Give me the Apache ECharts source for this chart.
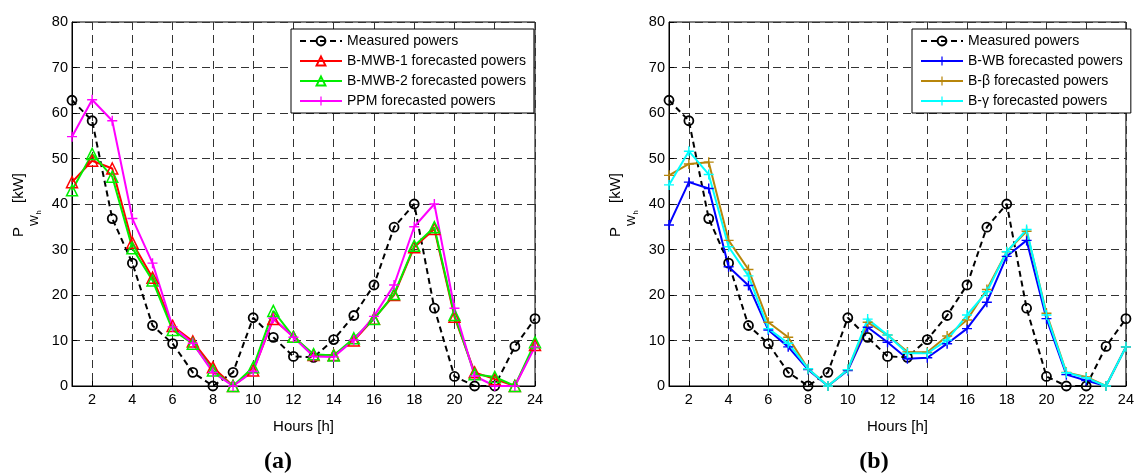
<!DOCTYPE html>
<html>
<head>
<meta charset="utf-8">
<script src="https://cdn.jsdelivr.net/npm/echarts@6/dist/echarts.min.js"></script>
<style>
html, body { margin: 0; padding: 0; background: #fff; }
#main { width: 1137px; height: 475px; }
</style>
</head>
<body>
<div id="main"></div>
<script>
// hours on the x axis
var hours = ['1', '2', '3', '4', '5', '6', '7', '8', '9', '10', '11', '12',
    '13', '14', '15', '16', '17', '18', '19', '20', '21', '22', '23', '24'];
var yTicks = [0, 10, 20, 30, 40, 50, 60, 70, 80];

// measured powers (same in both panels), kW
var measured = [62.8, 58.3, 36.8, 27.0, 13.3, 9.3, 3.0, 0, 3.0, 15.0, 10.7, 6.5,
    6.3, 10.2, 15.5, 22.2, 34.9, 40.0, 17.1, 2.1, 0, 0, 8.7, 14.8];

// panel (a)
var mwb1 = [44.8, 49.5, 47.8, 31.5, 23.8, 13.2, 9.8, 4.1, 0, 3.4, 14.7, 10.8,
    6.8, 6.8, 10.0, 14.8, 20.0, 30.5, 34.5, 15.2, 3.0, 1.5, 0, 9.0];
var mwb2 = [43.0, 51.0, 46.0, 30.3, 23.2, 12.3, 9.3, 3.4, 0, 4.1, 16.5, 10.8,
    7.0, 6.7, 10.5, 14.7, 20.2, 30.8, 34.9, 15.6, 2.6, 2.0, 0, 9.6];
var ppm = [54.8, 62.9, 58.3, 36.8, 27.0, 13.0, 9.4, 3.0, 0, 3.2, 14.9, 10.7,
    6.5, 6.4, 10.1, 15.3, 22.2, 35.0, 40.0, 17.1, 2.2, 0, 0, 8.6];

// panel (b)
var bwb = [35.4, 44.8, 43.4, 26.2, 22.1, 12.3, 8.6, 3.6, 0, 3.4, 12.9, 9.6,
    6.0, 6.2, 9.3, 12.6, 18.4, 28.5, 32.0, 14.8, 2.5, 1.2, 0, 8.6];
var bbeta = [46.3, 48.8, 49.2, 32.0, 25.6, 14.0, 10.7, 3.8, 0, 3.6, 14.0, 11.2,
    7.5, 7.4, 11.0, 14.5, 21.2, 29.5, 34.0, 16.0, 3.0, 2.0, 0, 8.6];
var bgamma = [44.2, 51.6, 46.5, 30.6, 24.2, 12.6, 9.4, 3.8, 0, 3.6, 14.7, 11.2,
    7.2, 7.2, 10.1, 15.6, 20.7, 29.5, 34.4, 15.6, 2.9, 1.8, 0, 8.6];

var FONT = 'Liberation Sans, Arial, sans-serif';
var PLUS = 'path://M0,8.6H20V11.4H0Z M8.6,0H11.4V20H8.6Z';
var GRIDLINE = { show: true, lineStyle: { color: '#333', type: [8, 5], width: 1 } };

function evenHour(index) {
    return index % 2 === 1;
}

function xAxisFor(gi) {
    return {
        type: 'category', gridIndex: gi, data: hours, boundaryGap: false,
        name: 'Hours [h]', nameLocation: 'middle', nameGap: 33,
        nameTextStyle: { fontFamily: FONT, fontSize: 15, color: '#000' },
        axisLine: { lineStyle: { color: '#000', width: 1 } },
        axisTick: { inside: true, length: 5, interval: evenHour, lineStyle: { color: '#000' } },
        axisLabel: { interval: evenHour, margin: 6, fontFamily: FONT, fontSize: 14.5, color: '#000' },
        splitLine: { show: true, interval: evenHour, lineStyle: GRIDLINE.lineStyle }
    };
}

function yAxisFor(gi) {
    return {
        type: 'value', gridIndex: gi, min: yTicks[0], max: yTicks[yTicks.length - 1], interval: 10,
        axisLine: { show: true, lineStyle: { color: '#000', width: 1 } },
        axisTick: { show: true, inside: true, length: 5, lineStyle: { color: '#000' } },
        axisLabel: { margin: 4, fontFamily: FONT, fontSize: 14.5, color: '#000' },
        splitLine: GRIDLINE
    };
}

function measuredSeries(gi) {
    return {
        name: 'Measured powers', type: 'line', xAxisIndex: gi, yAxisIndex: gi,
        data: measured, symbol: 'circle', symbolSize: 9,
        itemStyle: { color: 'rgba(0,0,0,0)', borderColor: '#000', borderWidth: 1.8 },
        lineStyle: { color: '#000', width: 2, type: [6, 4] }
    };
}

function triSeries(name, data, color, gi) {
    return {
        name: name, type: 'line', xAxisIndex: gi, yAxisIndex: gi, data: data,
        symbol: 'triangle', symbolSize: 11,
        itemStyle: { color: 'rgba(0,0,0,0)', borderColor: color, borderWidth: 1.5 },
        lineStyle: { color: color, width: 2 }
    };
}

function plusSeries(name, data, color, gi) {
    return {
        name: name, type: 'line', xAxisIndex: gi, yAxisIndex: gi, data: data,
        symbol: PLUS, symbolSize: 10,
        itemStyle: { color: color },
        lineStyle: { color: color, width: 2 }
    };
}

function legendFor(names, left) {
    return {
        data: names, left: left, top: 29, orient: 'vertical', selectedMode: false,
        itemWidth: 42, itemHeight: 11, itemGap: 6, padding: [5, 8, 5, 8],
        borderColor: '#000', borderWidth: 1, borderRadius: 0, backgroundColor: '#fff',
        textStyle: { fontFamily: FONT, fontSize: 14, color: '#000' }
    };
}

// P_{W_h} [kW], rotated
function yLabel(cx, cy) {
    function t(str, x, y, size) {
        return {
            type: 'text', x: x, y: y,
            style: { text: str, fontFamily: FONT, fontSize: size, fill: '#000', align: 'left', verticalAlign: 'middle' }
        };
    }
    return {
        type: 'group', x: cx, y: cy, rotation: Math.PI / 2,
        children: [
            t('P', -32, -1.8, 15),
            t('W', -21, 14, 11.5),
            t('h', -9.5, 18, 7.5),
            t('[kW]', 2, -1.8, 15)
        ]
    };
}

function panelTag(str, x) {
    return {
        type: 'text', x: x, y: 462,
        style: { text: str, fontFamily: 'Liberation Serif, Times New Roman, serif', fontWeight: 'bold',
            fontSize: 24, fill: '#000', align: 'center', verticalAlign: 'middle' }
    };
}

var myChart = echarts.init(document.getElementById('main'));
var option = {
    animation: false,
    backgroundColor: '#fff',
    grid: [
        { left: 72, top: 22, width: 463, height: 364, show: true, borderColor: '#000', borderWidth: 1 },
        { left: 669, top: 22, width: 463, height: 364, show: true, borderColor: '#000', borderWidth: 1 }
    ],
    xAxis: [xAxisFor(0), xAxisFor(1)],
    yAxis: [yAxisFor(0), yAxisFor(1)],
    legend: [
        legendFor(['Measured powers', 'B-MWB-1 forecasted powers', 'B-MWB-2 forecasted powers', 'PPM forecasted powers'], 291),
        legendFor(['Measured powers', 'B-WB forecasted powers', 'B-\u03b2 forecasted powers', 'B-\u03b3 forecasted powers'], 912)
    ],
    series: [
        measuredSeries(0),
        triSeries('B-MWB-1 forecasted powers', mwb1, '#ff0000', 0),
        triSeries('B-MWB-2 forecasted powers', mwb2, '#00ee00', 0),
        plusSeries('PPM forecasted powers', ppm, '#ff00ff', 0),
        measuredSeries(1),
        plusSeries('B-WB forecasted powers', bwb, '#0000ff', 1),
        plusSeries('B-\u03b2 forecasted powers', bbeta, '#b8860b', 1),
        plusSeries('B-\u03b3 forecasted powers', bgamma, '#00ffff', 1)
    ],
    graphic: [
        yLabel(21, 205),
        yLabel(618, 205),
        panelTag('(a)', 278),
        panelTag('(b)', 874)
    ]
};
myChart.setOption(option);
</script>
</body>
</html>
